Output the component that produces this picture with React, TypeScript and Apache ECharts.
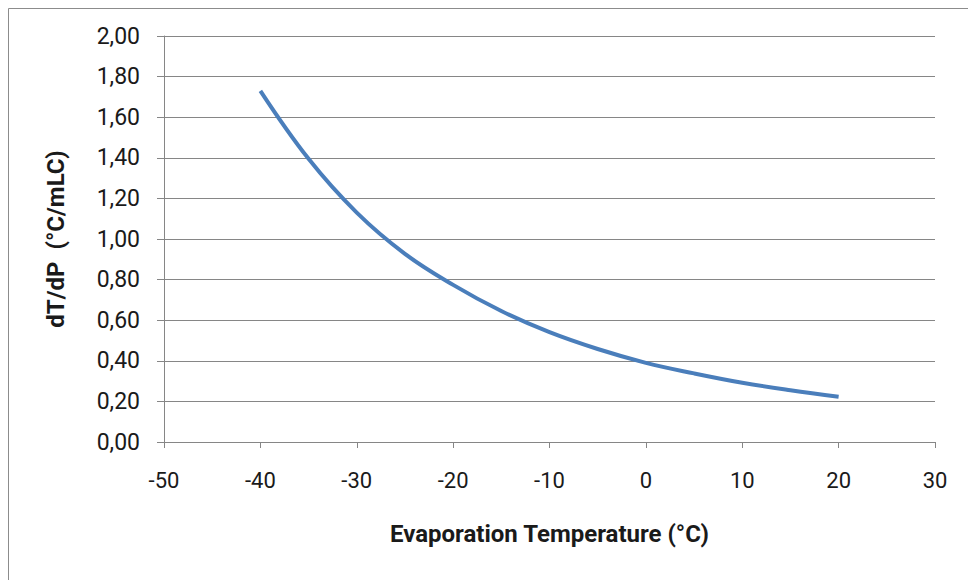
import React, { useEffect, useRef } from "react";
import * as echarts from "echarts";

const temps = [-40, -35, -30, -25, -20, -15, -10, -5, 0, 5, 10, 15, 20];
const dTdP = [1.73, 1.395, 1.13, 0.927, 0.774, 0.645, 0.541, 0.458, 0.39, 0.338, 0.292, 0.255, 0.223];
const xTitle = "Evaporation Temperature (°C)";
const yTitle = "dT/dP  (°C/mLC)";

const FONT = "'Liberation Sans Narrow', Roboto, sans-serif";
const GRAY = "#868686";

export default function App() {
  const ref = useRef<HTMLDivElement>(null);
  useEffect(() => {
    if (!ref.current) return;
    const chart = echarts.init(ref.current, null, { renderer: "svg" });
    chart.setOption({
      animation: false,
      backgroundColor: "#ffffff",
      graphic: [
        {
          type: "rect",
          shape: { x: 8.5, y: 8.5, width: 1000, height: 640 },
          style: { fill: "none", stroke: "#8c8c8c", lineWidth: 1 },
          silent: true,
        },
      ],
      grid: { left: 164, right: 33, top: 36, bottom: 138 },
      xAxis: {
        type: "value",
        min: -50,
        max: 30,
        interval: 10,
        name: xTitle,
        nameLocation: "middle",
        nameGap: 80,
        nameTextStyle: { fontFamily: FONT, fontSize: 24, fontWeight: "bold", color: "#1a1a1a" },
        axisLine: { show: true, onZero: false, lineStyle: { color: GRAY, width: 1 } },
        axisTick: { show: true, length: 6, lineStyle: { color: GRAY } },
        axisLabel: { margin: 27, fontFamily: FONT, fontSize: 22, color: "#1a1a1a" },
        splitLine: { show: false },
      },
      yAxis: {
        type: "value",
        min: 0,
        max: 2,
        interval: 0.2,
        name: yTitle,
        nameLocation: "middle",
        nameGap: 96,
        nameTextStyle: { fontFamily: FONT, fontSize: 24, fontWeight: "bold", color: "#1a1a1a" },
        axisLine: { show: true, onZero: false, lineStyle: { color: GRAY, width: 1 } },
        axisTick: { show: true, length: 7, lineStyle: { color: GRAY } },
        axisLabel: {
          margin: 24,
          fontFamily: FONT,
          fontSize: 23,
          color: "#1a1a1a",
          formatter: (v: number) => v.toFixed(2).replace(".", ","),
        },
        splitLine: { show: true, lineStyle: { color: GRAY, width: 1 } },
      },
      series: [
        {
          type: "line",
          data: temps.map((t, i) => [t, dTdP[i]]),
          smooth: 0.4,
          showSymbol: false,
          symbol: "none",
          lineStyle: { color: "#4a7ebb", width: 4 },
        },
      ],
    });
    return () => chart.dispose();
  }, []);
  return (
    <div
      ref={ref}
      style={{ position: "absolute", left: 0, top: 0, width: 968, height: 580 }}
    />
  );
}
